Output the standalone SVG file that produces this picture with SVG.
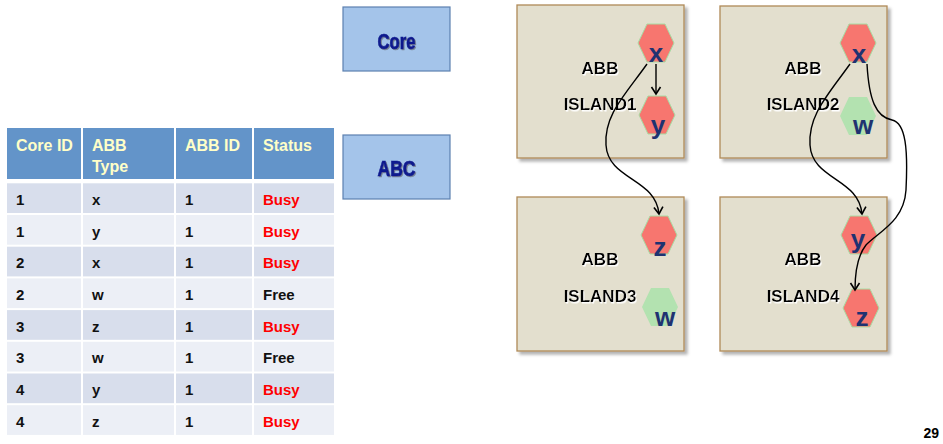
<svg xmlns="http://www.w3.org/2000/svg" width="943" height="444" viewBox="0 0 943 444">
  <style>
    .th { font-family: "Liberation Sans", Arial, sans-serif; font-weight: bold; font-size: 16px; fill: #FFFFC8; }
    .td { font-family: "Liberation Sans", Arial, sans-serif; font-weight: bold; font-size: 15px; fill: #111; }
    .busy { fill: #FF0000; }
    .hdr { fill: #6394C9; }
    .band1 { fill: #D8DEEC; }
    .band2 { fill: #ECEFF6; }
    .blk { fill: #A4C4EA; stroke: #5D80B0; stroke-width: 1.2; }
    .blk-t { font-family: "Liberation Sans Narrow", "Liberation Sans", Arial, sans-serif; font-weight: bold; font-size: 22px; fill: #0E1A8E; stroke: #0E1A8E; stroke-width: 0.7; }
    .isl { fill: #E3DFCE; stroke: #B08A58; stroke-width: 1.3; }
    .isl-t { font-family: "Liberation Sans", Arial, sans-serif; font-weight: bold; font-size: 17px; fill: #000; text-anchor: middle; }
    .busyhex { fill: #F7766F; stroke: #A8DCA4; stroke-width: 1; }
    .freehex { fill: #B3E2B0; }
    .abb { font-family: "Liberation Sans", Arial, sans-serif; font-weight: bold; font-size: 26px; fill: #1F3271; text-anchor: middle; }
    .conn { fill: none; stroke: #000; stroke-width: 1.4; }
  </style>
  <defs>
    <polygon id="hex" points="-18,0 -9,-19 9,-19 18,0 9,19 -9,19"/>
    <filter id="boxShadow" x="-10%" y="-10%" width="125%" height="125%">
      <feDropShadow dx="3" dy="3" stdDeviation="1.5" flood-color="#000" flood-opacity="0.3"/>
    </filter>
    <filter id="glow" x="-10%" y="-20%" width="130%" height="150%">
      <feDropShadow dx="1" dy="1.5" stdDeviation="0.7" flood-color="#FFFFFF" flood-opacity="1"/>
    </filter>
    <filter id="greyShadow" x="-10%" y="-20%" width="130%" height="150%">
      <feDropShadow dx="1" dy="1" stdDeviation="0.6" flood-color="#555" flood-opacity="0.6"/>
    </filter>
    <marker id="arr" viewBox="-9 -6 11 12" refX="0" refY="0" markerWidth="11" markerHeight="12" markerUnits="userSpaceOnUse" orient="auto">
      <path d="M-7,-4.5 L0,0 L-7,4.5" fill="none" stroke="#000" stroke-width="1.6"/>
    </marker>
  </defs>

  <rect width="943" height="444" fill="#FFFFFF"/>

  <!-- ABB allocation table -->
  <g id="table">
    <rect class="hdr" x="7" y="128" width="74" height="51"/>
    <rect class="hdr" x="83" y="128" width="91" height="51"/>
    <rect class="hdr" x="176" y="128" width="76" height="51"/>
    <rect class="hdr" x="254" y="128" width="80" height="51"/>
    <text class="th" x="16" y="151">Core ID</text>
    <text class="th" x="92" y="151">ABB</text>
    <text class="th" x="92" y="172">Type</text>
    <text class="th" x="185" y="151">ABB ID</text>
    <text class="th" x="263" y="151">Status</text>

    <g class="band1">
      <rect x="7" y="183.3" width="74" height="29.7"/><rect x="83" y="183.3" width="91" height="29.7"/><rect x="176" y="183.3" width="76" height="29.7"/><rect x="254" y="183.3" width="80" height="29.7"/>
      <rect x="7" y="246.7" width="74" height="29.7"/><rect x="83" y="246.7" width="91" height="29.7"/><rect x="176" y="246.7" width="76" height="29.7"/><rect x="254" y="246.7" width="80" height="29.7"/>
      <rect x="7" y="310.1" width="74" height="29.7"/><rect x="83" y="310.1" width="91" height="29.7"/><rect x="176" y="310.1" width="76" height="29.7"/><rect x="254" y="310.1" width="80" height="29.7"/>
      <rect x="7" y="373.5" width="74" height="29.7"/><rect x="83" y="373.5" width="91" height="29.7"/><rect x="176" y="373.5" width="76" height="29.7"/><rect x="254" y="373.5" width="80" height="29.7"/>
    </g>
    <g class="band2">
      <rect x="7" y="215" width="74" height="29.7"/><rect x="83" y="215" width="91" height="29.7"/><rect x="176" y="215" width="76" height="29.7"/><rect x="254" y="215" width="80" height="29.7"/>
      <rect x="7" y="278.4" width="74" height="29.7"/><rect x="83" y="278.4" width="91" height="29.7"/><rect x="176" y="278.4" width="76" height="29.7"/><rect x="254" y="278.4" width="80" height="29.7"/>
      <rect x="7" y="341.8" width="74" height="29.7"/><rect x="83" y="341.8" width="91" height="29.7"/><rect x="176" y="341.8" width="76" height="29.7"/><rect x="254" y="341.8" width="80" height="29.7"/>
      <rect x="7" y="405.2" width="74" height="29.7"/><rect x="83" y="405.2" width="91" height="29.7"/><rect x="176" y="405.2" width="76" height="29.7"/><rect x="254" y="405.2" width="80" height="29.7"/>
    </g>

    <g class="td">
      <text x="16" y="205">1</text><text x="92" y="205">x</text><text x="185" y="205">1</text><text class="busy" x="263" y="205">Busy</text>
      <text x="16" y="237">1</text><text x="92" y="237">y</text><text x="185" y="237">1</text><text class="busy" x="263" y="237">Busy</text>
      <text x="16" y="268">2</text><text x="92" y="268">x</text><text x="185" y="268">1</text><text class="busy" x="263" y="268">Busy</text>
      <text x="16" y="300">2</text><text x="92" y="300">w</text><text x="185" y="300">1</text><text x="263" y="300">Free</text>
      <text x="16" y="332">3</text><text x="92" y="332">z</text><text x="185" y="332">1</text><text class="busy" x="263" y="332">Busy</text>
      <text x="16" y="363">3</text><text x="92" y="363">w</text><text x="185" y="363">1</text><text x="263" y="363">Free</text>
      <text x="16" y="395">4</text><text x="92" y="395">y</text><text x="185" y="395">1</text><text class="busy" x="263" y="395">Busy</text>
      <text x="16" y="427">4</text><text x="92" y="427">z</text><text x="185" y="427">1</text><text class="busy" x="263" y="427">Busy</text>
    </g>
  </g>

  <!-- legend blocks -->
  <g id="core">
    <rect class="blk" x="343" y="7" width="107" height="64"/>
    <text class="blk-t" x="396.5" y="49" text-anchor="middle" textLength="38" lengthAdjust="spacingAndGlyphs" filter="url(#greyShadow)">Core</text>
  </g>
  <g id="abc">
    <rect class="blk" x="343" y="135" width="107" height="64"/>
    <text class="blk-t" x="396.5" y="176" text-anchor="middle" textLength="38" lengthAdjust="spacingAndGlyphs" filter="url(#greyShadow)">ABC</text>
  </g>

  <!-- islands -->
  <g id="island1">
    <rect class="isl" x="517" y="5" width="167" height="153" filter="url(#boxShadow)"/>
    <text class="isl-t" x="600" y="74" filter="url(#glow)">ABB</text>
    <text class="isl-t" x="600" y="110" filter="url(#glow)">ISLAND1</text>
    <g id="i1-x"><use href="#hex" class="busyhex" x="656" y="43"/><text class="abb" x="656" y="62">x</text></g>
    <g id="i1-y"><use href="#hex" class="busyhex" x="657" y="115"/><text class="abb" x="658" y="134">y</text></g>
  </g>
  <g id="island2">
    <rect class="isl" x="720" y="6" width="167" height="152" filter="url(#boxShadow)"/>
    <text class="isl-t" x="803" y="74" filter="url(#glow)">ABB</text>
    <text class="isl-t" x="803" y="110" filter="url(#glow)">ISLAND2</text>
    <g id="i2-x"><use href="#hex" class="busyhex" x="858" y="43"/><text class="abb" x="859" y="63">x</text></g>
    <g id="i2-w"><use href="#hex" class="freehex" x="858" y="116"/><text class="abb" x="863" y="134">w</text></g>
  </g>
  <g id="island3">
    <rect class="isl" x="517" y="197" width="167" height="154" filter="url(#boxShadow)"/>
    <text class="isl-t" x="600" y="265" filter="url(#glow)">ABB</text>
    <text class="isl-t" x="600" y="302" filter="url(#glow)">ISLAND3</text>
    <g id="i3-z"><use href="#hex" class="busyhex" x="659" y="235"/><text class="abb" x="660" y="256">z</text></g>
    <g id="i3-w"><use href="#hex" class="freehex" x="660" y="307"/><text class="abb" x="665" y="326">w</text></g>
  </g>
  <g id="island4">
    <rect class="isl" x="720" y="197" width="167" height="154" filter="url(#boxShadow)"/>
    <text class="isl-t" x="803" y="265" filter="url(#glow)">ABB</text>
    <text class="isl-t" x="803" y="302" filter="url(#glow)">ISLAND4</text>
    <g id="i4-y"><use href="#hex" class="busyhex" x="859" y="235"/><text class="abb" x="858" y="248">y</text></g>
    <g id="i4-z"><use href="#hex" class="busyhex" x="861" y="308"/><text class="abb" x="862" y="326">z</text></g>
  </g>

  <!-- dependency connectors -->
  <g id="connectors">
    <path class="conn" marker-end="url(#arr)" d="M656,64 L656,94"/>
    <path class="conn" marker-end="url(#arr)" d="M647,64 C625,95 604,115 606,145 C608,180 656,178 659,214"/>
    <path class="conn" marker-end="url(#arr)" d="M850,64 C828,95 808,115 810,145 C812,180 859,178 862,214"/>
    <path class="conn" marker-end="url(#arr)" d="M867,64 C869,100 876,117 892,120 C906,123 908,150 906,190 C904,222 878,232 866,245 C858,255 855,272 855,290"/>
  </g>

  <text x="939" y="438" text-anchor="end" font-family="Liberation Sans, Arial, sans-serif" font-weight="bold" font-size="14" fill="#000">29</text>
</svg>
